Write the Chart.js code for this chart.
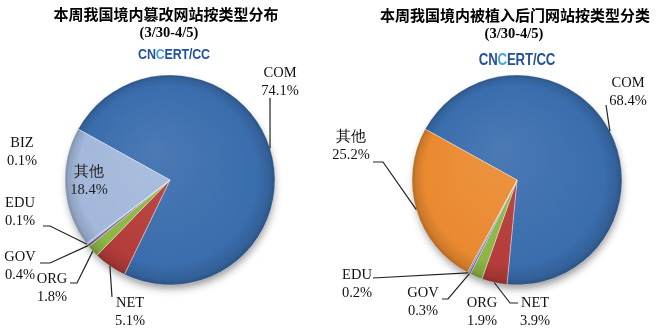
<!DOCTYPE html>
<html>
<head>
<meta charset="utf-8">
<script src="https://cdn.jsdelivr.net/npm/chart.js@4.4.0/dist/chart.umd.min.js"></script>
<style>
  body { margin: 0; background: #fff; }
  #page { position: relative; width: 659px; height: 335px; overflow: hidden; }
  .panel { position: absolute; top: 0; height: 335px; }
  #leftPanel { left: 0; width: 330px; }
  #rightPanel { left: 330px; width: 329px; }
  .panel canvas { position: absolute; left: 0; top: 0; }
  .t1, .t2, .logo { position: absolute; white-space: nowrap; transform: translate(-50%, -50%); color: #000; }
  .t1 { font: bold 15px "Noto Sans CJK SC", sans-serif; }
  .t2 { font: bold 14.5px "Liberation Serif", serif; }
  .logo { font: bold 15px "Liberation Sans", Arial, sans-serif; color: #24519c; letter-spacing: -0.2px; }
  .logo .g { color: #4aa3db; }
</style>
</head>
<body>
<div id="page">
  <div class="panel" id="leftPanel">
    <canvas id="leftPie" width="330" height="335"></canvas>
    <div class="t1" style="left:166px;top:13px">本周我国境内篡改网站按类型分布</div>
    <div class="t2" style="left:169px;top:32px">(3/30-4/5)</div>
    <div class="logo" style="left:174px;top:53px;transform:translate(-50%,-50%) scaleX(0.83)">CN<span class="g">C</span>ERT/CC</div>
  </div>
  <div class="panel" id="rightPanel">
    <canvas id="rightPie" width="329" height="335"></canvas>
    <div class="t1" style="left:185px;top:14px">本周我国境内被植入后门网站按类型分类</div>
    <div class="t2" style="left:184px;top:33px">(3/30-4/5)</div>
    <div class="logo" style="left:187px;top:59px;font-size:16.5px;transform:translate(-50%,-50%) scaleX(0.8)">CN<span class="g">C</span>ERT/CC</div>
  </div>
</div>
<script>
// defaced sites by type
var leftLabels = ['COM', 'NET', 'ORG', 'GOV', 'EDU', 'BIZ', '其他'];
var leftValues = [74.1, 5.1, 1.8, 0.4, 0.1, 0.1, 18.4];
var leftColors = ['#3a6dad', '#b43c3a', '#8db646', '#7a5ea3', '#4bacc6', '#2c4d7e', '#a3b8da'];

// backdoored sites by type
var rightLabels = ['COM', 'NET', 'ORG', 'GOV', 'EDU', '其他'];
var rightValues = [68.4, 3.9, 1.9, 0.3, 0.2, 25.2];
var rightColors = ['#3a6dad', '#b43c3a', '#8db646', '#7a5ea3', '#4f81bd', '#ea8a30'];

// where each label sits, and the bend points of its leader line (null = no line)
var leftLabelPos = [
  {x: 280, y: 73, leader: [[270, 98]]},
  {x: 130, y: 303, leader: [[112, 297]]},
  {x: 52, y: 279, leader: [[70, 283], [77, 283]]},
  {x: 20, y: 257, leader: [[40, 263], [50, 263]]},
  {x: 20, y: 203, leader: [[43, 226], [50, 226]]},
  {x: 22, y: 143, leader: null},
  {x: 89, y: 172, leader: null, color: '#222'}
];
var rightLabelPos = [
  {x: 298, y: 83, leader: [[276, 105]]},
  {x: 205, y: 303, leader: [[188, 303], [180, 303]]},
  {x: 152, y: 303, leader: null},
  {x: 93, y: 293, leader: [[112, 299], [118, 299]]},
  {x: 27, y: 275, leader: [[43, 278]]},
  {x: 21, y: 137, leader: [[43, 162], [53, 162]]}
];

function mix(hex, target, t) {
  var a = parseInt(hex.slice(1), 16), b = parseInt(target.slice(1), 16);
  var r = ((a >> 16) & 255) * (1 - t) + ((b >> 16) & 255) * t;
  var g = ((a >> 8) & 255) * (1 - t) + ((b >> 8) & 255) * t;
  var bl = (a & 255) * (1 - t) + (b & 255) * t;
  return 'rgb(' + Math.round(r) + ',' + Math.round(g) + ',' + Math.round(bl) + ')';
}

function shade(colors) {
  return function (c) {
    var base = colors[c.dataIndex];
    var area = c.chart.chartArea;
    if (!area) return base;
    var cx = (area.left + area.right) / 2, cy = (area.top + area.bottom) / 2;
    var r = c.dataset.radius;
    var g = c.chart.ctx.createRadialGradient(cx - r * 0.15, cy - r * 0.3, r * 0.05, cx, cy, r);
    g.addColorStop(0, mix(base, '#ffffff', 0.08));
    g.addColorStop(0.85, base);
    g.addColorStop(0.96, mix(base, '#000000', 0.12));
    g.addColorStop(1, mix(base, '#000000', 0.25));
    return g;
  };
}

// soft shadow under the pie, then the labels with their leader lines
var pieDecor = {
  id: 'pieDecor',
  beforeDatasetsDraw: function (chart) {
    var p = chart.getDatasetMeta(0).data[0].getProps(['x', 'y', 'outerRadius'], true);
    var ctx = chart.ctx;
    ctx.save();
    ctx.beginPath();
    ctx.arc(p.x, p.y + 1, p.outerRadius - 2, 0, Math.PI * 2);
    ctx.fillStyle = '#fff';
    ctx.shadowColor = 'rgba(0,0,0,0.45)';
    ctx.shadowBlur = 8;
    ctx.shadowOffsetX = 1;
    ctx.shadowOffsetY = 4;
    ctx.fill();
    ctx.restore();
  },
  afterDatasetsDraw: function (chart, args, opts) {
    var ctx = chart.ctx;
    var meta = chart.getDatasetMeta(0);
    var values = chart.data.datasets[0].data;
    ctx.save();
    opts.pos.forEach(function (lab, i) {
      var p = meta.data[i].getProps(['x', 'y', 'startAngle', 'endAngle', 'outerRadius'], true);
      var mid = (p.startAngle + p.endAngle) / 2;
      if (lab.leader) {
        ctx.beginPath();
        ctx.moveTo(lab.leader[0][0], lab.leader[0][1]);
        for (var k = 1; k < lab.leader.length; k++) ctx.lineTo(lab.leader[k][0], lab.leader[k][1]);
        ctx.lineTo(p.x + Math.cos(mid) * p.outerRadius, p.y + Math.sin(mid) * p.outerRadius);
        ctx.strokeStyle = '#222';
        ctx.lineWidth = 1.2;
        ctx.stroke();
      }
      ctx.fillStyle = lab.color || '#111';
      ctx.font = '14.5px "Liberation Serif", serif';
      ctx.textAlign = 'center';
      ctx.textBaseline = 'middle';
      ctx.fillText(chart.data.labels[i], lab.x, lab.y);
      ctx.fillText(values[i].toFixed(1) + '%', lab.x, lab.y + 18.5);
    });
    ctx.restore();
  }
};

function makePie(id, labels, values, colors, pos, padding) {
  return new Chart(document.getElementById(id), {
    type: 'pie',
    data: {
      labels: labels,
      datasets: [{
        data: values,
        backgroundColor: shade(colors),
        borderColor: 'rgba(255,255,255,0.35)',
        borderWidth: 1,
        rotation: 299,
        radius: 105
      }]
    },
    options: {
      responsive: false,
      animation: false,
      layout: {padding: padding},
      plugins: {
        legend: {display: false},
        tooltip: {enabled: false},
        pieDecor: {pos: pos}
      }
    },
    plugins: [pieDecor]
  });
}

makePie('leftPie', leftLabels, leftValues, leftColors, leftLabelPos,
        {left: 20, right: 10, top: 45, bottom: 20});
makePie('rightPie', rightLabels, rightValues, rightColors, rightLabelPos,
        {left: 50, right: 5, top: 45, bottom: 20});
</script>
</body>
</html>
